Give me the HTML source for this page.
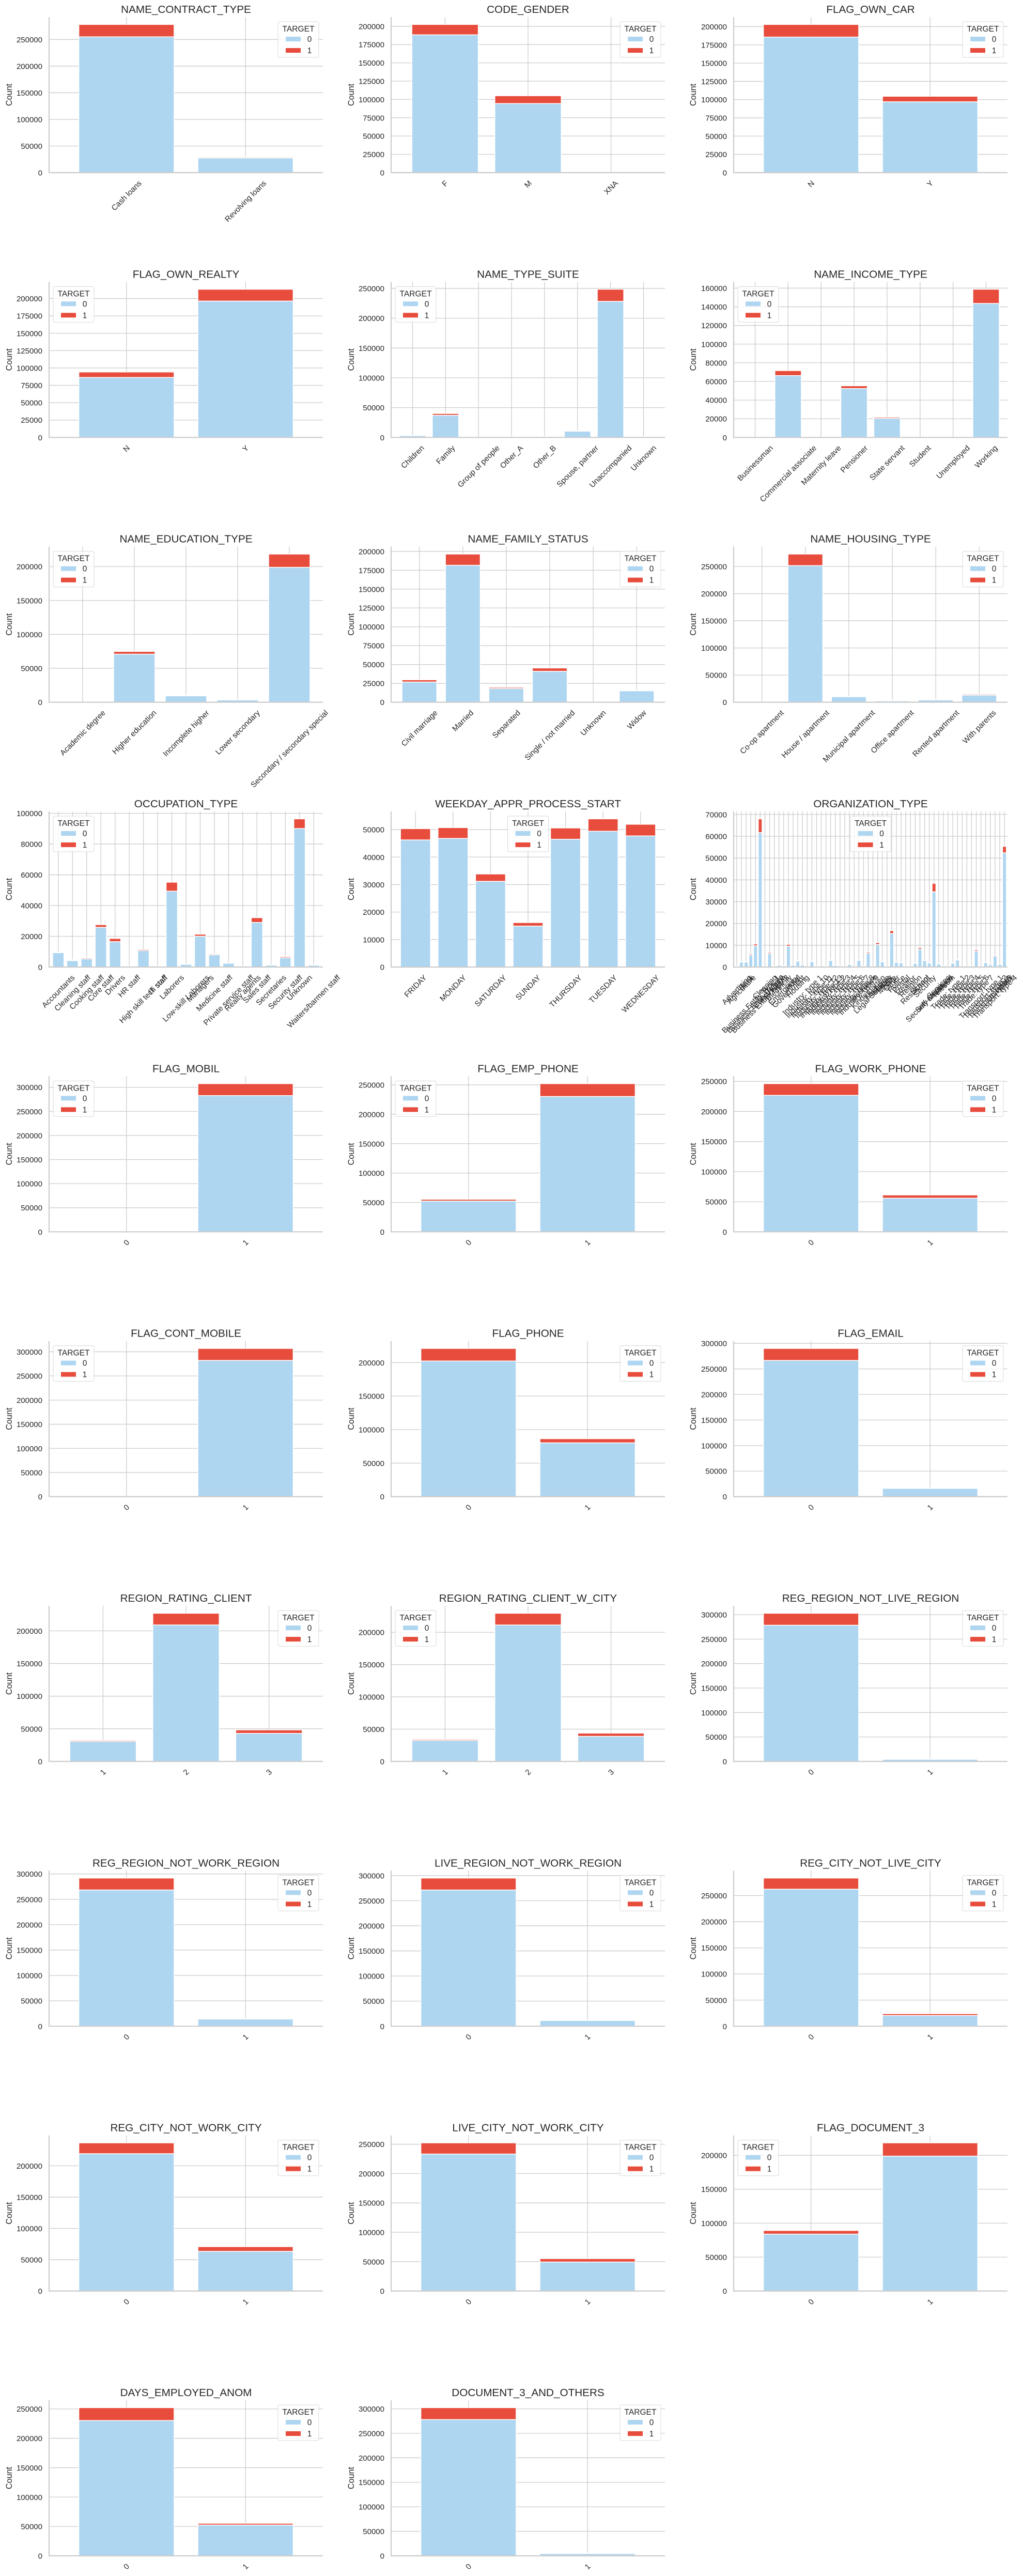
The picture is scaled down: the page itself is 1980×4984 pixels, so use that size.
<!DOCTYPE html>
<html><head><meta charset="utf-8">
<style>
html,body{margin:0;padding:0;background:#fff;}
svg{display:block;}
text{font-family:"Liberation Sans",Arial,sans-serif;fill:#262626;}
</style></head>
<body>
<svg id="s" xmlns="http://www.w3.org/2000/svg" width="1980" height="4984" viewBox="0 0 1980 4984"></svg>
<script>
var B='#aed6f1',R='#e74c3c',G='#cccccc';
function org(){
 var names=["Advertising","Agriculture","Bank","Business Entity Type 1","Business Entity Type 2","Business Entity Type 3","Cleaning","Construction","Culture","Electricity","Emergency","Government","Hotel","Housing","Industry: type 1","Industry: type 10","Industry: type 11","Industry: type 12","Industry: type 13","Industry: type 2","Industry: type 3","Industry: type 4","Industry: type 5","Industry: type 6","Industry: type 7","Industry: type 8","Industry: type 9","Insurance","Kindergarten","Legal Services","Medicine","Military","Mobile","Other","Police","Postal","Realtor","Religion","Restaurant","School","Security","Security Ministries","Self-employed","Services","Telecom","Trade: type 1","Trade: type 2","Trade: type 3","Trade: type 4","Trade: type 5","Trade: type 6","Trade: type 7","Transport: type 1","Transport: type 2","Transport: type 3","Transport: type 4","University","XNA"];
 var tot=[429,2454,2507,5984,10553,67992,260,6721,379,950,560,10404,966,2958,1039,109,2704,369,67,458,3278,877,599,112,1307,24,3368,597,6880,305,11193,2634,317,16683,2341,2157,396,85,1811,8893,3247,1974,38412,1575,577,348,1900,3492,64,49,631,7831,201,2204,1187,5398,1327,55374];
 var v1=tot.map(function(t){return Math.round(t*0.08);});
 v1[5]=6323;v1[42]=3908;v1[57]=2990;
 var v0=tot.map(function(t,i){return t-v1[i];});
 return ["ORGANIZATION_TYPE","uc",names,v0,v1];
}
var C=[
["NAME_CONTRACT_TYPE","ur",["Cash loans","Revolving loans"],[255011,27675],[23221,1604]],
["CODE_GENDER","ur",["F","M","XNA"],[188278,94404,4],[14170,10655,0]],
["FLAG_OWN_CAR","ur",["N","Y"],[185675,97011],[17249,7576]],
["FLAG_OWN_REALTY","ul",["N","Y"],[86357,196329],[7842,16983]],
["NAME_TYPE_SUITE","ul",["Children","Family","Group of people","Other_A","Other_B","Spouse, partner","Unaccompanied","Unknown"],[3026,37140,248,790,1596,10475,228189,1195],[241,3009,23,76,174,895,20337,97]],
["NAME_INCOME_TYPE","ul",["Businessman","Commercial associate","Maternity leave","Pensioner","State servant","Student","Unemployed","Working"],[10,66257,3,52380,20454,18,14,143550],[0,5360,2,2982,1249,0,8,15224]],
["NAME_EDUCATION_TYPE","ul",["Academic degree","Higher education","Incomplete higher","Lower secondary","Secondary / secondary special"],[161,70854,9405,3399,198867],[3,4009,872,417,19524]],
["NAME_FAMILY_STATUS","ur",["Civil marriage","Married","Separated","Single / not married","Unknown","Widow"],[26814,181582,18150,40987,2,15151],[2961,14850,1620,4457,0,937]],
["NAME_HOUSING_TYPE","ur",["Co-op apartment","House / apartment","Municipal apartment","Office apartment","Rented apartment","With parents"],[1033,251596,10228,2445,4280,13104],[89,21272,955,172,601,1736]],
["OCCUPATION_TYPE","ul",["Accountants","Cleaning staff","Cooking staff","Core staff","Drivers","HR staff","High skill tech staff","IT staff","Laborers","Low-skill Laborers","Managers","Medicine staff","Private service staff","Realty agents","Sales staff","Secretaries","Security staff","Unknown","Waiters/barmen staff"],[9339,4206,5325,25832,16496,527,10679,492,49348,1734,20043,7965,2477,692,29010,1213,5999,90113,1196],[474,447,621,1738,2107,36,701,34,5838,359,1328,572,175,59,3092,92,722,6278,152]],
["WEEKDAY_APPR_PROCESS_START","uc",["FRIDAY","MONDAY","SATURDAY","SUNDAY","THURSDAY","TUESDAY","WEDNESDAY"],[46237,46780,31182,14898,46493,49400,47696],[4101,3934,2670,1283,4098,4501,4238]],
org(),
["FLAG_MOBIL","ul",["0","1"],[1,282685],[0,24825]],
["FLAG_EMP_PHONE","ul",["0","1"],[52395,230291],[2991,21834]],
["FLAG_WORK_PHONE","ur",["0","1"],[226784,55902],[19419,5406]],
["FLAG_CONT_MOBILE","ul",["0","1"],[541,282145],[33,24792]],
["FLAG_PHONE","ur",["0","1"],[202371,80315],[18709,6116]],
["FLAG_EMAIL","ur",["0","1"],[266603,16083],[23466,1359]],
["REGION_RATING_CLIENT","ur",["1","2","3"],[30645,209077,42964],[1552,17907,5366]],
["REGION_RATING_CLIENT_W_CITY","ul",["1","2","3"],[32513,211314,38859],[1654,18170,5001]],
["REG_REGION_NOT_LIVE_REGION","ur",["0","1"],[278373,4313],[24481,344]],
["REG_REGION_NOT_WORK_REGION","ur",["0","1"],[268473,14213],[23426,1399]],
["LIVE_REGION_NOT_WORK_REGION","ur",["0","1"],[271255,11431],[23753,1072]],
["REG_CITY_NOT_LIVE_CITY","ur",["0","1"],[262189,20497],[21283,3542]],
["REG_CITY_NOT_WORK_CITY","ur",["0","1"],[219321,63365],[17323,7502]],
["LIVE_CITY_NOT_WORK_CITY","ur",["0","1"],[233271,49415],[19025,5800]],
["FLAG_DOCUMENT_3","ul",["0","1"],[83875,198811],[5296,19529]],
["DAYS_EMPLOYED_ANOM","ur",["0","1"],[230302,52384],[21835,2990]],
["DOCUMENT_3_AND_OTHERS","ur",["0","1"],[278000,4686],[24300,525]]
];
var cv=document.createElement('canvas').getContext('2d');
cv.font='15px "Liberation Sans", Arial, sans-serif';
var out=[];
function r(x,y,w,h,f,extra){out.push('<rect x="'+x.toFixed(2)+'" y="'+y.toFixed(2)+'" width="'+Math.max(0,w).toFixed(2)+'" height="'+Math.max(0,h).toFixed(2)+'" fill="'+f+'" '+(extra||'')+'/>');}
function l(x1,y1,x2,y2,c,w){out.push('<line x1="'+x1.toFixed(2)+'" y1="'+y1.toFixed(2)+'" x2="'+x2.toFixed(2)+'" y2="'+y2.toFixed(2)+'" stroke="'+c+'" stroke-width="'+w+'"/>');}
function t(x,y,s,fs,anchor,extra){s=String(s).replace(/&/g,'&amp;').replace(/</g,'&lt;');out.push('<text x="'+x.toFixed(2)+'" y="'+y.toFixed(2)+'" font-size="'+fs+'" text-anchor="'+(anchor||'start')+'" '+(extra||'')+'>'+s+'</text>');}
var LEFT=[95,757,1420],AW=530,PITCH=512.33;
C.forEach(function(ch,idx){
 var row=Math.floor(idx/3),col=idx%3,y0=row*PITCH;
 var left=LEFT[col],right=left+AW,top=y0+33,bot=y0+334,H=bot-top;
 var cats=ch[2],v0=ch[3],v1=ch[4],n=cats.length;
 var mx=0;for(var i=0;i<n;i++)mx=Math.max(mx,v0[i]+v1[i]);
 var ymax=mx*1.05;
 var step,cands=[];for(var k=0;k<7;k++){[1,2,2.5,5].forEach(function(m){cands.push(m*Math.pow(10,k));});}
 for(var j=0;j<cands.length;j++){if(Math.floor(ymax/cands[j])+1<=9){step=cands[j];break;}}
 function Y(v){return bot-v/ymax*H;}
 var unit=AW/(n-1+1.3);function X(i){return left+(0.65+i)*unit;}
 // grid
 for(var v=step;v<=ymax;v+=step){l(left,Y(v),right,Y(v),G,1.3);}
 for(i=0;i<n;i++)l(X(i),top,X(i),bot,G,1.3);
 // bars
 var bw=0.8*unit;
 for(i=0;i<n;i++){
  var x=X(i)-bw/2;
  if(v0[i]>0)r(x,Y(v0[i]),bw,Y(0)-Y(v0[i]),B,'stroke="#fff" stroke-width="1.5"');
  if(v1[i]>0)r(x,Y(v0[i]+v1[i]),bw,Y(v0[i])-Y(v0[i]+v1[i]),R,'stroke="#fff" stroke-width="1.5"');
 }
 // spines
 l(left,top,left,bot+1,G,2.2);l(left-1,bot,right,bot,G,2.2);
 // y ticks
 for(v=0;v<=ymax;v+=step){t(left-13,Y(v)+5.5,String(Math.round(v)),15,'end');}
 // x ticks
 for(i=0;i<n;i++){
  var L=cv.measureText(cats[i]).width;var bb=(L+11)*0.7071;
  var cy=bot+14+bb/2,cx=X(i);
  t(cx,cy+5,cats[i],15,'middle','transform="rotate(-45 '+cx.toFixed(2)+' '+cy.toFixed(2)+')"');
 }
 // title, ylabel
 t(left+AW/2,y0+25,ch[0],20.7,'middle');
 var ly=(top+bot)/2;t(col*662+23,ly,'Count',16.2,'middle','transform="rotate(-90 '+(col*662+23)+' '+ly.toFixed(2)+')"');
 // legend
 var lw=79,lh=69,lx;
 if(ch[1]=='ur')lx=right-8-lw;else if(ch[1]=='ul')lx=left+8;else lx=left+AW/2-lw/2;
 var lt=top+9;
 r(lx,lt,lw,lh,'#fff','fill-opacity="0.8" stroke="#d8d8d8" stroke-width="1" rx="3"');
 t(lx+lw/2,lt+19,'TARGET',15.6,'middle');
 r(lx+15,lt+29,29,9,B);r(lx+15,lt+51,29,9,R);
 t(lx+61,lt+39,'0',15.5,'middle');t(lx+61,lt+61,'1',15.5,'middle');
});
document.getElementById('s').innerHTML=out.join('');
</script>
</body></html>
